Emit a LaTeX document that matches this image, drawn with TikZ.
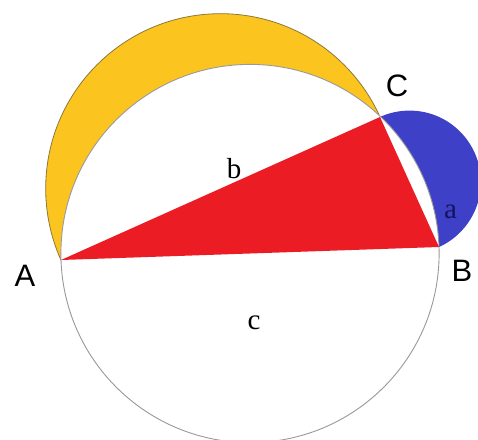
\documentclass[tikz,border=0pt]{standalone}
\usepackage{fontspec}
\setmainfont{Liberation Serif}
\newfontfamily\labelfont{Liberation Sans}
\usetikzlibrary{calc}

\definecolor{luneyellow}{RGB}{252,196,30}
\definecolor{lunerim}{RGB}{140,120,60}
\definecolor{luneblue}{RGB}{62,64,200}
\definecolor{trired}{RGB}{236,28,36}
\definecolor{sidenavy}{RGB}{20,20,90}

\begin{document}
\begin{tikzpicture}[x=1pt,y=1pt, vertex/.style={font=\labelfont\fontsize{31}{31}\selectfont,inner sep=0pt}, side/.style={font=\fontsize{29}{29}\selectfont,inner sep=0pt}]
\useasboundingbox (0,0) rectangle (478,439);
\coordinate (A) at (61,179);
\coordinate (B) at (439,192);
\coordinate (C) at (380,322);
\coordinate (O) at ($(A)!0.5!(B)$);
\coordinate (Mb) at ($(A)!0.5!(C)$);
\coordinate (Ma) at ($(B)!0.5!(C)$);
% half circles on the two legs
\filldraw[fill=luneyellow,draw=lunerim,line width=0.8pt] (Mb) circle[radius=174.8];
\fill[luneblue] (Ma) circle[radius=71.4];
% circle on the hypotenuse
\filldraw[fill=white,draw=gray!80,line width=0.9pt] (O) circle[radius=189.1];
\fill[trired] (A) -- (B) -- (C) -- cycle;
\node[vertex] (lA) at (25,163) {A};
\node[vertex] (lB) at (462,168) {B};
\node[vertex] (lC) at (397,353.5) {C};
\node[side] (lb) at (234,270) {b};
\node[side,text=sidenavy] (la) at (450.5,227.5) {a};
\node[side] (lc) at (254,116.5) {c};
\end{tikzpicture}
\end{document}
